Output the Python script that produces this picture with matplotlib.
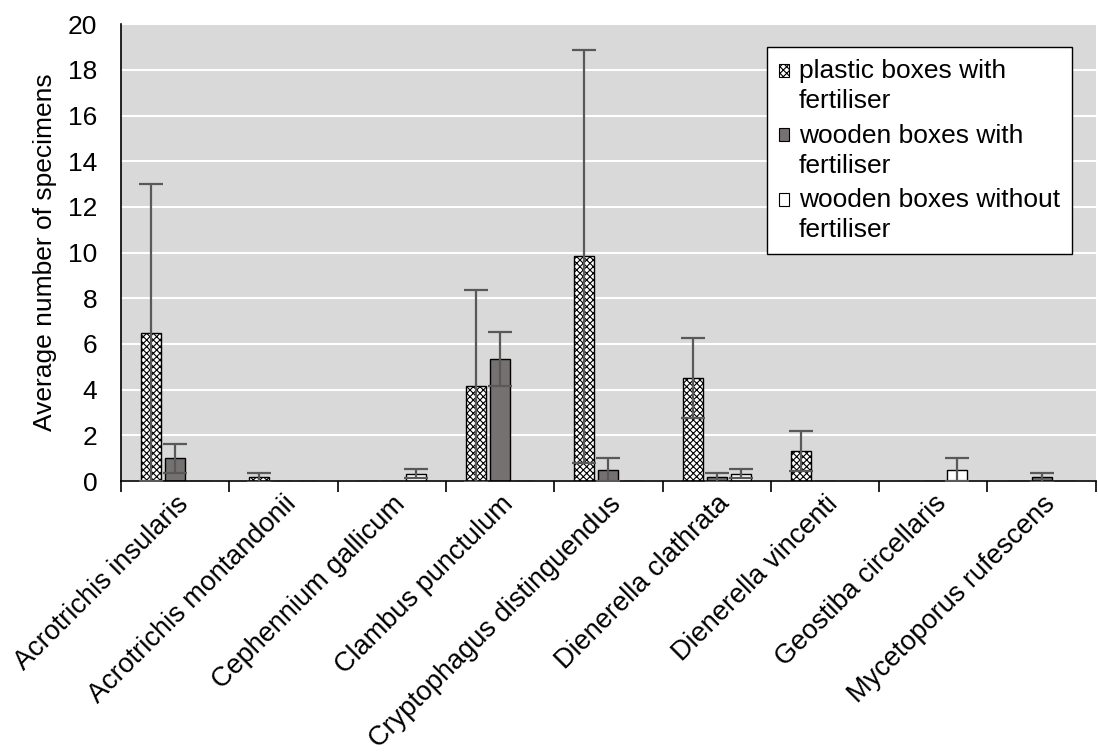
import numpy as np
import matplotlib
matplotlib.use("Agg")
import matplotlib.pyplot as plt
import matplotlib.transforms as mtransforms
from matplotlib.patches import Patch, Rectangle
from matplotlib.legend_handler import HandlerPatch

plt.rcParams['font.family'] = ['Liberation Sans', 'DejaVu Sans']
plt.rcParams['hatch.linewidth'] = 0.8

# Species and mean counts (with SD) per box type
species = [
    "Acrotrichis insularis", "Acrotrichis montandonii", "Cephennium gallicum",
    "Clambus punctulum", "Cryptophagus distinguendus", "Dienerella clathrata",
    "Dienerella vincenti", "Geostiba circellaris", "Mycetoporus rufescens",
]
plastic_fert = [6.5, 0.17, 0, 4.17, 9.83, 4.5, 1.33, 0, 0]
plastic_fert_sd = [6.5, 0.19, 0, 4.19, 9.05, 1.75, 0.87, 0, 0]
wooden_fert = [1.0, 0, 0, 5.33, 0.5, 0.17, 0, 0, 0.17]
wooden_fert_sd = [0.63, 0, 0, 1.18, 0.5, 0.19, 0, 0, 0.19]
wooden_nofert = [0, 0, 0.33, 0, 0, 0.33, 0, 0.5, 0]
wooden_nofert_sd = [0, 0, 0.21, 0, 0, 0.21, 0, 0.5, 0]

series = [
    ("plastic boxes with\nfertiliser", plastic_fert, plastic_fert_sd,
     dict(facecolor="white", hatch="xxxxx")),
    ("wooden boxes with\nfertiliser", wooden_fert, wooden_fert_sd,
     dict(facecolor="#767171")),
    ("wooden boxes without\nfertiliser", wooden_nofert, wooden_nofert_sd,
     dict(facecolor="white")),
]

FS = 19
CAT_FS = 19.5


def top_line_swatch(legend, orig_handle, xdescent, ydescent, width, height, fontsize):
    # put the swatch beside the first line of a two-line label
    return Rectangle((-xdescent, -ydescent + 0.6 * fontsize), width, height)


fig = plt.figure(figsize=(10.98, 7.54), dpi=100)
ax = fig.add_axes([0.1102, 0.362, 0.8878, 0.606])
ax.set_facecolor("#d9d9d9")

x = np.arange(len(species))
width = 0.185
offsets = [-0.222, 0.0, 0.222]

handles, labels = [], []
for (label, vals, sds, style), off in zip(series, offsets):
    vals = np.array(vals, dtype=float)
    sds = np.array(sds, dtype=float)
    ax.bar(x + off, vals, width, edgecolor="black", linewidth=1.0,
           zorder=2, **style)
    mask = vals > 0
    ax.errorbar(x[mask] + off, vals[mask], yerr=sds[mask], fmt="none",
                ecolor="#595959", elinewidth=1.6, capsize=8.5, capthick=1.6,
                zorder=3)
    handles.append(Patch(edgecolor="black", linewidth=0.8, **style))
    labels.append(label)

ax.set_xlim(-0.5, len(species) - 0.5)
ax.set_ylim(0, 20)
ax.set_yticks(np.arange(0, 21, 2))
ax.yaxis.grid(True, color="white", linewidth=1.5, zorder=0)
ax.set_axisbelow(True)

ax.set_xticks(x)
ax.set_xticklabels(species, rotation=45, ha="right", rotation_mode="anchor",
                   fontsize=CAT_FS)
shift = mtransforms.ScaledTranslation(-0.18, -0.03, fig.dpi_scale_trans)
for lbl in ax.get_xticklabels():
    lbl.set_transform(lbl.get_transform() + shift)
ax.tick_params(axis="x", length=0, pad=7)
# category separators as minor ticks
ax.set_xticks(np.arange(-0.5, len(species)), minor=True)
ax.tick_params(axis="x", which="minor", length=8, width=1.2, color="black")
ax.tick_params(axis="y", length=0, labelsize=FS, pad=17)

for side in ["top", "right"]:
    ax.spines[side].set_visible(False)
ax.spines["left"].set_linewidth(1.2)
ax.spines["bottom"].set_linewidth(1.2)

ax.set_ylabel("Average number of specimens", fontsize=FS, labelpad=8)

leg = ax.legend(handles, labels, loc="upper right", bbox_to_anchor=(0.9754, 0.9497),
                fontsize=FS, frameon=True, fancybox=False, edgecolor="black",
                handlelength=0.38, handleheight=0.38, handletextpad=0.38,
                labelspacing=0.4, borderpad=0.45, borderaxespad=0, framealpha=1,
                handler_map={Patch: HandlerPatch(patch_func=top_line_swatch)})
leg.get_frame().set_linewidth(1.0)
for t in leg.get_texts():
    t.set_linespacing(1.32)

fig.savefig("out.png", dpi=100)
